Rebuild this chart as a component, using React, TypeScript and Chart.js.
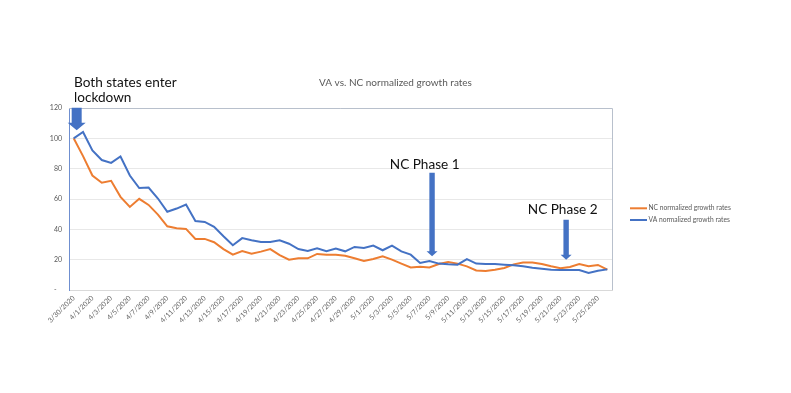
import React, { useEffect, useRef } from "react";
import { Chart, registerables } from "chart.js";

Chart.register(...registerables);

const dates = [
  "3/30/2020", "3/31/2020",
  "4/1/2020", "4/2/2020", "4/3/2020", "4/4/2020", "4/5/2020", "4/6/2020", "4/7/2020", "4/8/2020", "4/9/2020", "4/10/2020",
  "4/11/2020", "4/12/2020", "4/13/2020", "4/14/2020", "4/15/2020", "4/16/2020", "4/17/2020", "4/18/2020", "4/19/2020", "4/20/2020",
  "4/21/2020", "4/22/2020", "4/23/2020", "4/24/2020", "4/25/2020", "4/26/2020", "4/27/2020", "4/28/2020", "4/29/2020", "4/30/2020",
  "5/1/2020", "5/2/2020", "5/3/2020", "5/4/2020", "5/5/2020", "5/6/2020", "5/7/2020", "5/8/2020", "5/9/2020", "5/10/2020",
  "5/11/2020", "5/12/2020", "5/13/2020", "5/14/2020", "5/15/2020", "5/16/2020", "5/17/2020", "5/18/2020", "5/19/2020", "5/20/2020",
  "5/21/2020", "5/22/2020", "5/23/2020", "5/24/2020", "5/25/2020", "5/26/2020",
];

const ncValues = [
  100, 88.3, 75.5, 70.7, 72, 61.4, 54.8, 60.1, 56.1, 49.7,
  42, 40.7, 40.3, 33.7, 33.7, 31.5, 27, 23.3, 25.7, 23.9,
  25.3, 27, 23, 20, 20.9, 20.9, 23.8, 23.3, 23.2, 22.6,
  20.9, 19.1, 20.4, 22.2, 20, 17.4, 14.9, 15.4, 14.9, 17.1,
  18.5, 17.4, 15.6, 12.9, 12.5, 13.4, 14.5, 16.9, 18.2, 18.2,
  17.1, 15.6, 14.3, 15.2, 17.1, 15.6, 16.5, 13.4,
];

const vaValues = [
  100, 104.2, 92, 85.7, 83.8, 88, 75.5, 67.2, 67.5, 60.3,
  51.6, 53.7, 56.4, 45.5, 44.9, 41.6, 35.4, 29.5, 34.2, 32.8,
  31.7, 31.7, 32.8, 30.5, 27, 25.8, 27.5, 25.6, 27.3, 25.5,
  28.4, 27.7, 29.3, 26.2, 29.3, 25.5, 23.3, 17.8, 19.1, 17.4,
  16.9, 16.7, 20.4, 17.4, 17.2, 17.2, 16.7, 16.3, 15.6, 14.7,
  14.0, 13.4, 13.2, 13.2, 13.2, 11.2, 12.7, 13.6,
];

const seriesNames = ["NC normalized growth rates", "VA normalized growth rates"];
const chartTitle = "VA vs. NC normalized growth rates";

// Arrows: category index (fractional) and y-values for top, head start, tip
const arrows = [
  { at: 0.32, from: 120.2, head: 110.3, to: 105.3, shaftW: 10, headW: 18 },
  { at: 38.28, from: 77.3, head: 25.5, to: 22.2, shaftW: 5.4, headW: 11 },
  { at: 52.6, from: 46.4, head: 23.3, to: 20, shaftW: 5.4, headW: 11 },
];

const calloutTexts = [
  { lines: ["Both states enter", "lockdown"], x: 74, y: 86.7, align: "left" as CanvasTextAlign },
  { lines: ["NC Phase 1"], x: 424.7, y: 169, align: "center" as CanvasTextAlign },
  { lines: ["NC Phase 2"], x: 562.7, y: 214, align: "center" as CanvasTextAlign },
];

const ORANGE = "#ED7D31";
const BLUE = "#4472C4";
const FONT = "Lato, 'Open Sans', sans-serif";

const overlayPlugin = {
  id: "overlay",
  afterDraw(chart: any) {
    const { ctx, chartArea: a, scales } = chart;
    const x = scales.x;
    const y = scales.y;
    ctx.save();
    // plot frame (top and right)
    ctx.strokeStyle = "#b8c0cc";
    ctx.lineWidth = 1;
    ctx.beginPath();
    ctx.moveTo(a.left, Math.round(a.top) + 0.5);
    ctx.lineTo(Math.round(a.right) + 0.5, Math.round(a.top) + 0.5);
    ctx.lineTo(Math.round(a.right) + 0.5, a.bottom);
    ctx.stroke();

    // arrows
    ctx.fillStyle = BLUE;
    for (const ar of arrows) {
      const cx = x.getPixelForValue(ar.at);
      const top = y.getPixelForValue(ar.from);
      const hs = y.getPixelForValue(ar.head);
      const tip = y.getPixelForValue(ar.to);
      ctx.beginPath();
      ctx.moveTo(cx - ar.shaftW / 2, top);
      ctx.lineTo(cx + ar.shaftW / 2, top);
      ctx.lineTo(cx + ar.shaftW / 2, hs);
      ctx.lineTo(cx + ar.headW / 2, hs);
      ctx.lineTo(cx, tip);
      ctx.lineTo(cx - ar.headW / 2, hs);
      ctx.lineTo(cx - ar.shaftW / 2, hs);
      ctx.closePath();
      ctx.fill();
    }

    // callout texts
    ctx.fillStyle = "#111111";
    ctx.font = `13.6px ${FONT}`;
    ctx.textBaseline = "alphabetic";
    for (const t of calloutTexts) {
      ctx.textAlign = t.align;
      t.lines.forEach((line, i) => ctx.fillText(line, t.x, t.y + i * 15));
    }

    // legend
    const colors = [ORANGE, BLUE];
    ctx.font = `6.7px ${FONT}`;
    ctx.textAlign = "left";
    ctx.textBaseline = "middle";
    seriesNames.forEach((name, i) => {
      const ly = 208.3 + i * 11.7;
      ctx.strokeStyle = colors[i];
      ctx.lineWidth = 2;
      ctx.beginPath();
      ctx.moveTo(630, ly);
      ctx.lineTo(647, ly);
      ctx.stroke();
      ctx.fillStyle = "#595959";
      ctx.fillText(name, 648.5, ly);
    });
    ctx.restore();
  },
};

export default function App() {
  const ref = useRef<HTMLCanvasElement | null>(null);
  useEffect(() => {
    if (!ref.current) return;
    const chart = new Chart(ref.current, {
      type: "line",
      data: {
        labels: dates,
        datasets: [
          {
            label: seriesNames[0],
            data: ncValues,
            borderColor: ORANGE,
            backgroundColor: ORANGE,
            borderWidth: 2,
            pointRadius: 0,
            tension: 0,
            order: 2,
          },
          {
            label: seriesNames[1],
            data: vaValues,
            borderColor: BLUE,
            backgroundColor: BLUE,
            borderWidth: 2,
            pointRadius: 0,
            tension: 0,
            order: 1,
          },
        ],
      },
      options: {
        responsive: false,
        animation: false,
        devicePixelRatio: 1,
        layout: { padding: { left: 0, right: 0, top: 0, bottom: 0 } },
        plugins: {
          legend: { display: false },
          tooltip: { enabled: false },
          title: {
            display: true,
            text: chartTitle,
            color: "#595959",
            font: { family: FONT, size: 10, weight: "normal" },
            padding: { top: 77, bottom: 19 },
          },
        },
        scales: {
          x: {
            type: "category",
            offset: true,
            grid: { display: false, drawTicks: false },
            border: { display: true, color: "#d9d9d9" },
            ticks: {
              autoSkip: false,
              maxRotation: 45,
              minRotation: 45,
              padding: 4,
              color: "#666666",
              font: { family: FONT, size: 7 },
              callback: (_v: any, i: number) => (i % 2 === 0 ? dates[i] : ""),
            },
            afterFit: (s: any) => {
              s.height = 103;
            },
          },
          y: {
            min: 0,
            max: 120,
            ticks: {
              stepSize: 20,
              padding: 7,
              color: "#595959",
              font: { family: FONT, size: 7 },
              callback: (v: any) => (v === 0 ? "-   " : String(v)),
            },
            grid: { color: "#e8e8e8", drawTicks: false },
            border: { display: true, color: "#6f8fd0" },
            afterFit: (s: any) => {
              s.width = 69;
            },
          },
          legendSpace: {
            type: "linear",
            position: "right",
            display: true,
            grid: { display: false, drawTicks: false },
            ticks: { display: false },
            border: { display: false },
            afterFit: (s: any) => {
              s.width = 179;
            },
          },
        },
      },
      plugins: [overlayPlugin],
    });
    return () => chart.destroy();
  }, []);
  return (
    <div style={{ position: "fixed", left: 0, top: 0, width: 791, height: 393, background: "#fff" }}>
      <canvas ref={ref} width={791} height={393} />
    </div>
  );
}
